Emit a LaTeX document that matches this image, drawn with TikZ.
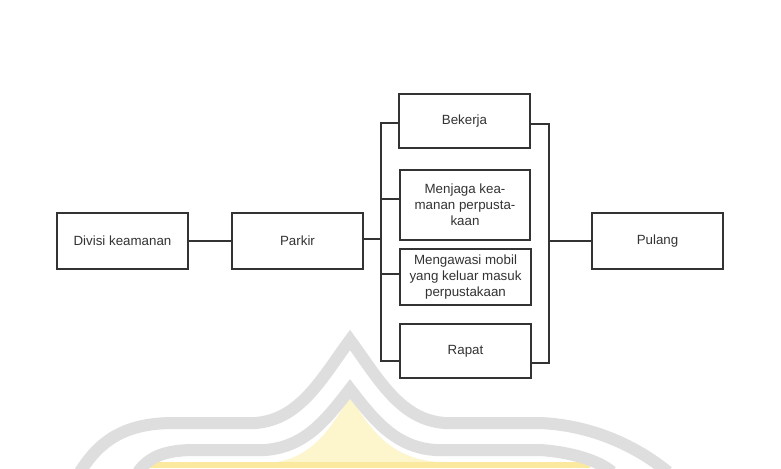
\documentclass[tikz,border=0pt]{standalone}
\usepackage{fontspec}
\setmainfont{Liberation Sans}
\definecolor{ink}{HTML}{333333}
\definecolor{wmgray}{HTML}{DEDEDE}
\definecolor{wmyel}{HTML}{FDF5CC}
\definecolor{wmyel2}{HTML}{FCE9A0}
\tikzset{
  box/.style={draw=ink, line width=1.5pt, text=ink, align=center,
    font=\fontsize{10}{12}\selectfont, inner sep=0pt,
    minimum width=98pt, minimum height=42pt},
  link/.style={draw=ink, line width=1.5pt},
  wm/.style={draw=wmgray, line width=9pt}
}
\begin{document}
\begin{tikzpicture}[x=0.75pt,y=-0.75pt]
\useasboundingbox (0,0) rectangle (781,468);
\fill[white] (0,0) rectangle (781,468);
% watermark
\fill[wmyel] (350,396) .. controls (330,430) and (310,462) .. (265,463) -- (160,466) -- (160,468) -- (570,468) -- (570,463) -- (440,462) .. controls (392,460) and (370,430) .. (350,396) -- cycle;
\fill[wmyel2] (150,462) -- (590,462) -- (590,468) -- (150,468) -- cycle;
\draw[wm] (80,472) .. controls (100,440) and (125,424) .. (170,423) -- (255,423) .. controls (300,420) and (322,378) .. (350,340) .. controls (378,378) and (400,420) .. (445,423) -- (540,423) .. controls (590,425) and (635,445) .. (668,472);
\draw[wm] (138,472) .. controls (150,456) and (165,451) .. (190,450) -- (265,450) .. controls (305,447) and (326,420) .. (350,389) .. controls (374,420) and (395,447) .. (435,450) -- (540,450) .. controls (570,452) and (598,460) .. (612,472);
% boxes
\node[box] (divisi) at (122.5,241) {Divisi keamanan};
\node[box] (parkir) at (297.5,241) {Parkir};
\node[box, minimum height=40.5pt] (bekerja) at (464.5,121) {Bekerja};
\node[box, minimum height=52.5pt] (menjaga) at (465,205) {Menjaga kea-\\manan perpusta-\\kaan};
\node[box] (mengawasi) at (465.5,277) {Mengawasi mobil\\yang keluar masuk\\perpustakaan};
\node[box, minimum height=40.5pt] (rapat) at (465.5,351) {Rapat};
\node[box] (pulang) at (657.5,241) {Pulang};
% trunk points
\coordinate (tlTop) at (381,123);
\coordinate (tlBot) at (381,361);
\coordinate (j2) at (381,199);
\coordinate (j3) at (381,274);
\coordinate (jp) at (381,239);
\coordinate (trTop) at (549,124);
\coordinate (trBot) at (549,363);
% connectors
\draw[link] (divisi) -- (parkir);
\draw[link] (parkir.east |- jp) -- (jp);
\draw[link] (bekerja.west |- tlTop) -- (tlTop) -- (tlBot) -- (tlBot -| rapat.west);
\draw[link] (j2) -- (j2 -| menjaga.west);
\draw[link] (j3) -- (j3 -| mengawasi.west);
\draw[link] (bekerja.east |- trTop) -- (trTop) -- (trBot) -- (trBot -| rapat.east);
\draw[link] (pulang.west) -- (pulang.west -| trTop);
\end{tikzpicture}
\end{document}
